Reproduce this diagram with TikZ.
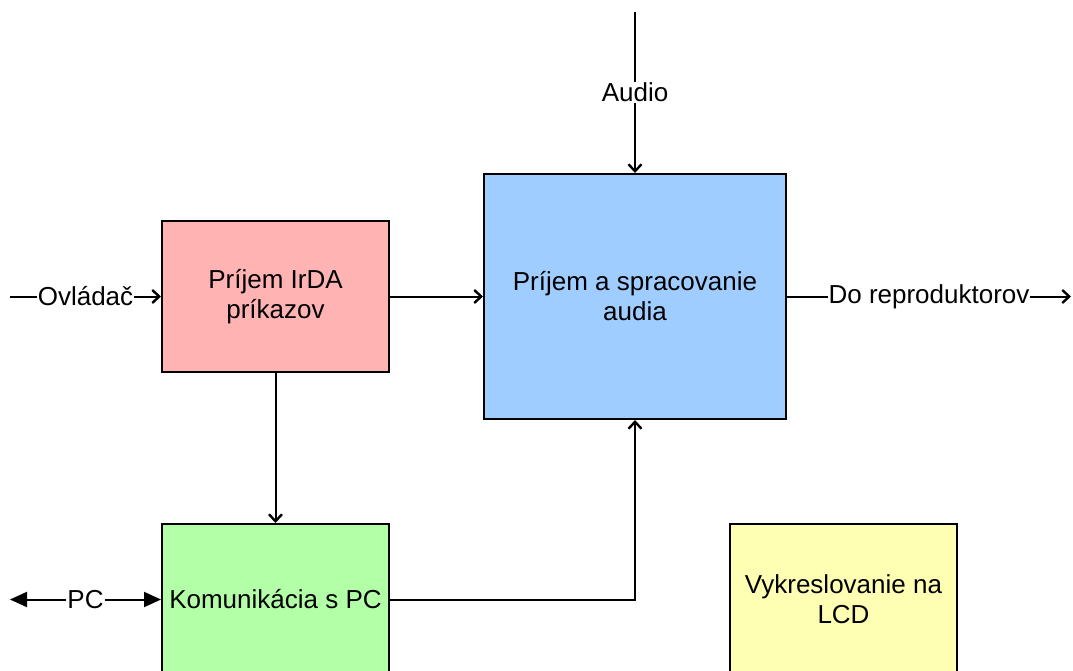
\documentclass[tikz,border=0pt]{standalone}
\usepackage{fontspec}
\setmainfont{Liberation Sans}
\usetikzlibrary{arrows.meta}
\definecolor{cred}{RGB}{255,179,179}
\definecolor{cblue}{RGB}{160,205,255}
\definecolor{cgreen}{RGB}{179,255,168}
\definecolor{cyellow}{RGB}{255,255,179}
\tikzset{
  blk/.style={draw=black, line width=2pt, inner sep=0pt, align=center,
    font=\fontsize{26}{30}\selectfont},
  conn/.style={line width=2pt, -{Straight Barb[length=7pt,width=13pt,line width=2.4pt]}},
  lbl/.style={fill=white, inner sep=1pt, font=\fontsize{26}{30}\selectfont},
  tri/.style={line width=2pt, {Triangle[length=17pt,width=15pt]}-{Triangle[length=17pt,width=15pt]}},
}
\begin{document}
\begin{tikzpicture}[x=1pt,y=-1pt]
\useasboundingbox (0,0) rectangle (1073,671);
\clip (0,0) rectangle (1073,671);
% boxes
\node[blk, fill=cred, minimum width=227pt, minimum height=151pt] (irda) at (275.5,296.5) {Príjem IrDA\\príkazov};
\node[blk, fill=cblue, minimum width=302pt, minimum height=245pt] (audio) at (635,296.5) {Príjem a spracovanie\\audia};
\node[blk, fill=cgreen, minimum width=227pt, minimum height=151pt] (pc) at (275.5,599.5) {Komunikácia s PC};
\node[blk, fill=cyellow, minimum width=227pt, minimum height=151pt] (lcd) at (843.5,599.5) {Vykreslovanie na\\LCD};
% free ends
\coordinate (ovl) at (10,296.5);
\coordinate (repro) at (1071,296.5);
\coordinate (audin) at (635,12);
\coordinate (pcl) at (10,599.5);
\coordinate (corner) at (635,599.5);
% connectors
\draw[conn] (ovl) -- node[lbl]{Ovládač} (irda.west);
\draw[conn] (irda.east) -- (audio.west |- irda.east);
\draw[conn] (audio.east) -- node[lbl]{Do reproduktorov} (repro);
\draw[conn] (audin) -- node[lbl]{Audio} (audio.north);
\draw[conn] (irda.south) -- (pc.north);
\draw[conn] (pc.east) -- (corner) -- (audio.south);
\draw[tri] (pcl) -- node[lbl]{PC} (pc.west);
\end{tikzpicture}
\end{document}
